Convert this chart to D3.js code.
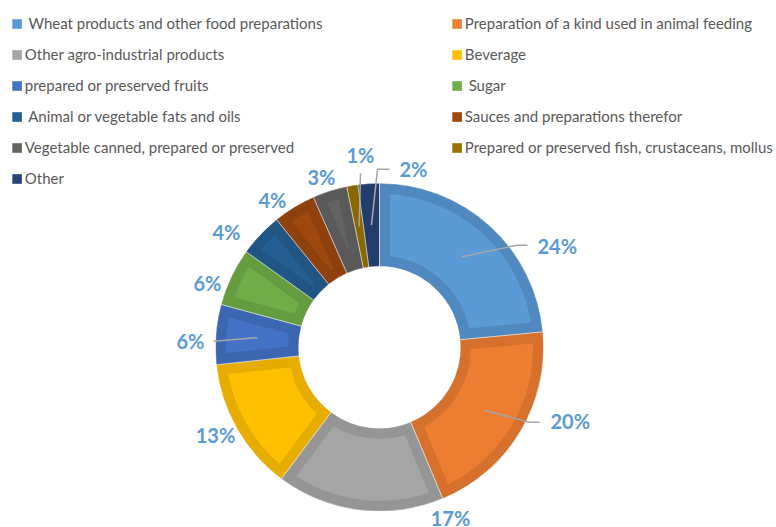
<!DOCTYPE html>
<html>
<head>
<meta charset="utf-8">
<script src="https://cdn.jsdelivr.net/npm/d3@7"></script>
<style>
  body { margin: 0; background: #fff; }
  svg text { font-family: Lato, "Open Sans", sans-serif; white-space: pre; }
</style>
</head>
<body>
<div class="chart"></div>
<script>
// data
var categories = [
  " Wheat products and other food preparations",
  "Preparation of a kind used in animal feeding",
  "Other agro-industrial products",
  "Beverage",
  "prepared or preserved fruits",
  " Sugar",
  " Animal or vegetable fats and oils",
  "Sauces and preparations therefor",
  "Vegetable canned, prepared or preserved",
  "Prepared or preserved fish, crustaceans, mollus",
  "Other"
];
var shares = [23.5, 20.2, 16.5, 13.1, 5.9, 5.7, 4.3, 4.2, 3.4, 1.1, 2.1];
var labels = ["24%", "20%", "17%", "13%", "6%", "6%", "4%", "4%", "3%", "1%", "2%"];

var fills   = ["#5B9BD5", "#ED7D31", "#A5A5A5", "#FFC000", "#4472C4", "#70AD47",
               "#255E91", "#9E480E", "#636363", "#997300", "#264478"];
var borders = ["#5089C0", "#D5712C", "#959595", "#E6AD00", "#3D66B0", "#659C40",
               "#215583", "#8E410D", "#595959", "#8A6800", "#223D6C"];

// label layout (relative to the pie centre): baseline anchor + optional leader elbow
var labelLayout = [
  {x: 158, y: -93, anchor: "start", leader: [[137, -102], [148, -102]]},
  {x: 171, y: 82, anchor: "start", leader: [[150, 75], [160, 75]]},
  {x: 71, y: 179, anchor: "middle"},
  {x: -164, y: 96, anchor: "middle"},
  {x: -189, y: 2, anchor: "middle", leader: [[-166, -6]]},
  {x: -172, y: -56, anchor: "middle"},
  {x: -153, y: -107, anchor: "middle"},
  {x: -107, y: -139, anchor: "middle"},
  {x: -58, y: -162, anchor: "middle"},
  {x: -19, y: -184, anchor: "middle", leader: [[-19, -174]]},
  {x: 20, y: -170, anchor: "start", leader: [[-2, -178], [10, -178]]}
];

var W = 776, H = 527;
var cx = 379.5, cy = 347.3, rOuter = 164, rInner = 81;

var svg = d3.select('.chart')
  .append('svg')
    .attr('width', W)
    .attr('height', H);

// legend
var legend = svg.append('g');
categories.forEach(function(name, i) {
  var col = i % 2, row = Math.floor(i / 2);
  var x0 = col ? 452.3 : 12.3;
  var y0 = 24 + row * 31;
  legend.append('rect')
    .attr('x', x0).attr('y', y0 - 4.8)
    .attr('width', 9.6).attr('height', 9.6)
    .attr('fill', fills[i]);
  legend.append('text')
    .attr('x', x0 + 12.5).attr('y', y0)
    .attr('dy', '0.36em')
    .attr('font-size', '15px')
    .attr('fill', '#595959')
    .text(name);
});

// donut
var pie = d3.pie().sort(null).value(d => d)
  .startAngle(0).endAngle(2 * Math.PI);
var arcs = pie(shares);
var arc = d3.arc().innerRadius(rInner).outerRadius(rOuter);
var mid = d3.arc().innerRadius((rInner + rOuter) / 2).outerRadius((rInner + rOuter) / 2);

var g = svg.append('g').attr('transform', `translate(${cx}, ${cy})`);
var defs = svg.append('defs');

arcs.forEach(function(a, i) {
  defs.append('clipPath').attr('id', 'clip' + i)
    .append('path').attr('d', arc(a));
});

g.selectAll('path.slice')
  .data(arcs)
  .enter()
  .append('path')
    .attr('class', 'slice')
    .attr('d', arc)
    .attr('fill', (d, i) => fills[i])
    .attr('stroke', (d, i) => borders[i])
    .attr('stroke-width', 21)
    .attr('stroke-linejoin', 'miter')
    .attr('clip-path', (d, i) => `url(#clip${i})`);

// thin separators
g.selectAll('path.sep')
  .data(arcs)
  .enter()
  .append('path')
    .attr('class', 'sep')
    .attr('d', arc)
    .attr('fill', 'none')
    .attr('stroke', '#fff')
    .attr('stroke-width', 0.6)
    .attr('stroke-opacity', 0.6);

// leader lines
arcs.forEach(function(a, i) {
  var lay = labelLayout[i];
  if (!lay.leader) return;
  var pts = [mid.centroid(a)].concat(lay.leader);
  g.append('path')
    .attr('d', d3.line()(pts))
    .attr('fill', 'none')
    .attr('stroke', '#A6A6A6')
    .attr('stroke-width', 1.5);
});

// labels
g.selectAll('text.lbl')
  .data(arcs)
  .enter()
  .append('text')
    .attr('class', 'lbl')
    .attr('x', (d, i) => labelLayout[i].x)
    .attr('y', (d, i) => labelLayout[i].y)
    .attr('text-anchor', (d, i) => labelLayout[i].anchor)
    .attr('font-size', '20px')
    .attr('font-weight', 'bold')
    .attr('fill', '#5B9BD5')
    .text((d, i) => labels[i]);
</script>
</body>
</html>
